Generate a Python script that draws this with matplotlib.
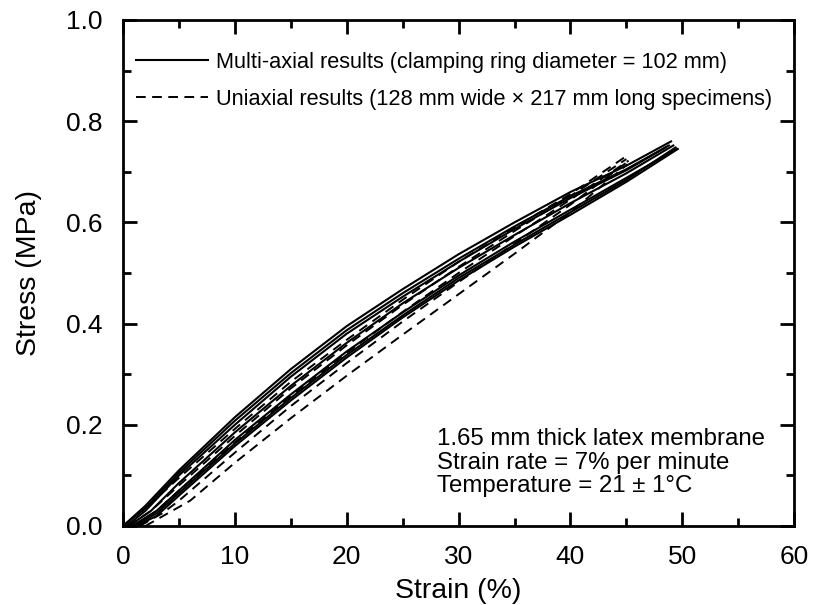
import matplotlib
matplotlib.use("Agg")
import matplotlib.pyplot as plt
import numpy as np

plt.rcParams['font.family'] = ['Liberation Sans', 'DejaVu Sans']

# Multi-axial (solid) curves: strain (%) and stress (MPa)
solid_strain = [
    [0, 2, 5, 10, 15, 20, 25, 30, 35, 40, 45, 49.0],
    [0, 2, 5, 10, 15, 20, 25, 30, 35, 40, 45, 48.8],
    [0.3, 2, 5, 10, 15, 20, 25, 30, 35, 40, 45, 48.5],
    [0.5, 2.5, 5, 10, 15, 20, 25, 30, 35, 40, 45, 49.2],
    [0.8, 3, 5, 10, 15, 20, 25, 30, 35, 40, 45, 49.5],
    [1.0, 3, 5, 10, 15, 20, 25, 30, 35, 40, 45, 49.4],
    [1.2, 3, 5, 10, 15, 20, 25, 30, 35, 40, 45, 49.6],
]
solid_stress = [
    [0, 0.04, 0.11, 0.215, 0.31, 0.395, 0.468, 0.537, 0.600, 0.660, 0.712, 0.760],
    [0, 0.035, 0.105, 0.208, 0.302, 0.387, 0.460, 0.528, 0.592, 0.652, 0.705, 0.752],
    [0, 0.03, 0.10, 0.200, 0.295, 0.380, 0.453, 0.522, 0.587, 0.648, 0.703, 0.748],
    [0, 0.03, 0.085, 0.185, 0.277, 0.362, 0.440, 0.510, 0.575, 0.638, 0.697, 0.752],
    [0, 0.03, 0.07, 0.170, 0.260, 0.345, 0.422, 0.495, 0.562, 0.625, 0.688, 0.745],
    [0, 0.025, 0.065, 0.163, 0.253, 0.338, 0.416, 0.490, 0.556, 0.620, 0.684, 0.748],
    [0, 0.02, 0.06, 0.158, 0.248, 0.333, 0.412, 0.485, 0.552, 0.615, 0.680, 0.745],
]

# Uniaxial (dashed) curves
dash_strain = [
    [0, 2, 5, 10, 15, 20, 25, 30, 35, 40, 44.8],
    [0.5, 2.5, 5, 10, 15, 20, 25, 30, 35, 40, 45.0],
    [1.0, 3, 5, 10, 15, 20, 25, 30, 35, 40, 45.2],
    [1.5, 3.5, 5, 10, 15, 20, 25, 30, 35, 40, 45.0],
    [2.0, 4, 6, 10, 15, 20, 25, 30, 35, 40, 45.1],
]
dash_stress = [
    [0, 0.035, 0.095, 0.192, 0.285, 0.368, 0.447, 0.522, 0.590, 0.656, 0.728],
    [0, 0.03, 0.08, 0.178, 0.272, 0.357, 0.437, 0.512, 0.583, 0.652, 0.725],
    [0, 0.03, 0.07, 0.165, 0.257, 0.342, 0.423, 0.500, 0.573, 0.645, 0.722],
    [0, 0.025, 0.05, 0.145, 0.237, 0.322, 0.404, 0.482, 0.558, 0.635, 0.718],
    [0, 0.025, 0.05, 0.125, 0.213, 0.297, 0.378, 0.458, 0.538, 0.620, 0.715],
]

legend_labels = ["Multi-axial results (clamping ring diameter = 102 mm)",
                 "Uniaxial results (128 mm wide \u00d7 217 mm long specimens)"]
note_lines = ["1.65 mm thick latex membrane",
              "Strain rate = 7% per minute",
              "Temperature = 21 \u00b1 1\u00b0C"]

fig = plt.figure(figsize=(8.17, 6.05), dpi=100)
ax = fig.add_axes([0.1506, 0.1306, 0.8214, 0.8364])

for i, (xs, ys) in enumerate(zip(solid_strain, solid_stress)):
    ax.plot(xs, ys, color='black', lw=1.5, solid_joinstyle='round',
            label=legend_labels[0] if i == 0 else None)
for i, (xs, ys) in enumerate(zip(dash_strain, dash_stress)):
    ax.plot(xs, ys, color='black', lw=1.4, dashes=(5, 3.3),
            label=legend_labels[1] if i == 0 else None)

ax.set_xlim(0, 60)
ax.set_ylim(0, 1.0)
ax.set_xticks(np.arange(0, 61, 10))
ax.set_xticks(np.arange(0, 61, 5), minor=True)
ax.set_yticks(np.arange(0, 1.01, 0.2))
ax.set_yticks(np.arange(0, 1.01, 0.1), minor=True)
ax.set_yticklabels([f"{v:.1f}" for v in np.arange(0, 1.01, 0.2)])
ax.tick_params(which='both', direction='in', top=True, right=True, width=2,
               labelsize=19)
ax.tick_params(axis='y', pad=15)
ax.tick_params(axis='x', pad=14)
ax.tick_params(which='major', length=10)
ax.tick_params(which='minor', length=6)
for s in ax.spines.values():
    s.set_linewidth(2)

ax.set_xlabel("Strain (%)", fontsize=20.5, labelpad=6)
ax.set_ylabel("Stress (MPa)", fontsize=20.5, labelpad=17)

ax.legend(loc='upper left', frameon=False, fontsize=15.7, handlelength=3.3,
          handletextpad=0.35, labelspacing=0.75, borderaxespad=0.2,
          bbox_to_anchor=(0.0, 0.963))

ax.text(28.1, 0.125, "\n".join(note_lines), fontsize=17.3, va='center',
        ha='left', linespacing=1.1)

fig.savefig("out.png", dpi=100)
